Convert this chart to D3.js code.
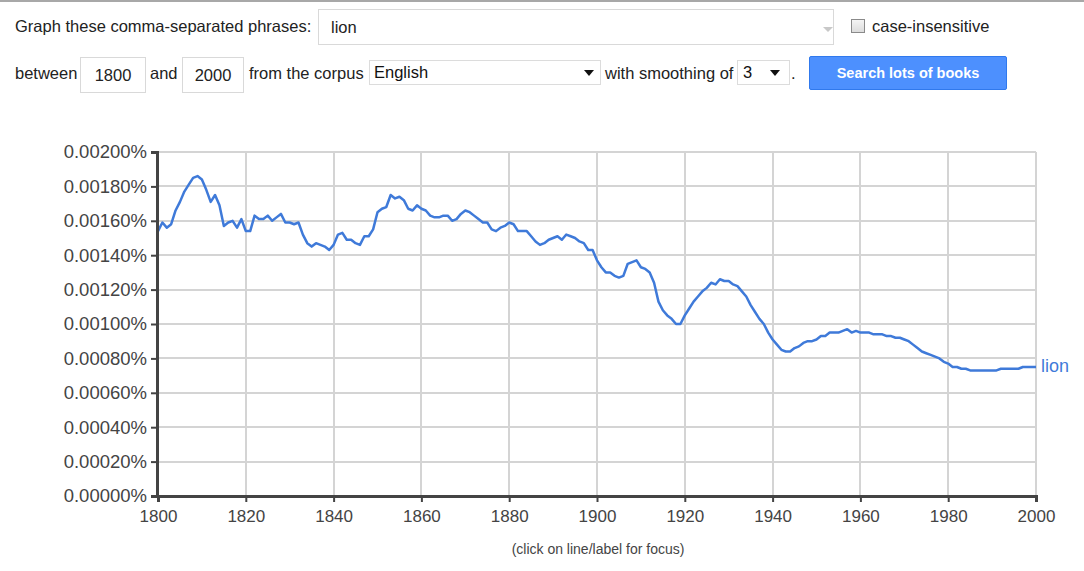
<!DOCTYPE html>
<html>
<head>
<meta charset="utf-8">
<script src="https://cdn.jsdelivr.net/npm/d3@7"></script>
<style>
  html, body { margin: 0; padding: 0; background: #fff; width: 1084px; height: 571px; overflow: hidden; }
  body { font-family: Arial, "Liberation Sans", sans-serif; position: relative; }
  .topline { position: absolute; left: 0; top: 0; width: 1084px; height: 2px; background: #a8a8a8; }
  .lbl { position: absolute; font-size: 16.5px; color: #222; white-space: nowrap; line-height: 20px; }
  .box { position: absolute; border: 1px solid #d9d9d9; background: #fff; box-sizing: border-box; font-size: 16.5px; color: #222; line-height: 20px; }
  .sel { position: absolute; border: 1px solid #dcdcdc; background: #fff; box-sizing: border-box; font-size: 16.5px; color: #111; line-height: 20px; }
  .tri { position: absolute; width: 0; height: 0; border-left: 5px solid transparent; border-right: 5px solid transparent; border-top: 6px solid #111; }
  .btn { position: absolute; background: #4d90fe; border: 1px solid #3079ed; border-radius: 2px; box-sizing: border-box; color: #fff; font-weight: bold; font-size: 14.5px; text-align: center; }
  .cb { position: absolute; width: 14px; height: 14px; border: 1px solid #8a8a8a; box-sizing: border-box; background: linear-gradient(#f4f4f4, #dcdcdc); }
  svg { position: absolute; left: 0; top: 0; }
</style>
</head>
<body>
<div class="topline"></div>
<div class="lbl" style="left:15px; top:16px;">Graph these comma-separated phrases:</div>
<div class="box" style="left:318px; top:9px; width:516px; height:36px; padding:7px 0 0 12px;">lion</div>
<div class="tri" style="left:823px; top:27px; border-top-color:#c8c8c8; border-top-width:5px;"></div>
<div class="cb" style="left:851px; top:19px;"></div>
<div class="lbl" style="left:872px; top:16px;">case-insensitive</div>

<div class="lbl" style="left:15px; top:63px;">between</div>
<div class="box" style="left:80px; top:57px; width:66px; height:36px; text-align:center; padding-top:7px;">1800</div>
<div class="lbl" style="left:150px; top:63px;">and</div>
<div class="box" style="left:182px; top:57px; width:62px; height:36px; text-align:center; padding-top:7px;">2000</div>
<div class="lbl" style="left:249px; top:63px;">from the corpus</div>
<div class="sel" style="left:369px; top:60px; width:232px; height:25px; padding:1px 0 0 4px;">English</div>
<div class="tri" style="left:584px; top:70px;"></div>
<div class="lbl" style="left:605px; top:63px;">with smoothing of</div>
<div class="sel" style="left:737px; top:60px; width:53px; height:25px; padding:1px 0 0 5px;">3</div>
<div class="tri" style="left:770px; top:70px;"></div>
<div class="lbl" style="left:791px; top:63px;">.</div>
<div class="btn" style="left:809px; top:56px; width:198px; height:34px; line-height:33px;">Search lots of books</div>

<svg id="chart" width="1084" height="571"></svg>

<script>
const years = d3.range(1800, 2001);
// Frequency of "lion" in percent, one value per year 1800..2000
const values = [
  0.00154, 0.00159, 0.00156, 0.00158, 0.00166, 0.00171, 0.00177, 0.00181, 0.00185, 0.00186,
  0.00184, 0.00178, 0.00171, 0.00175, 0.00169, 0.00157, 0.00159, 0.00160, 0.00156, 0.00161,
  0.00154, 0.00154, 0.00163, 0.00161, 0.00161, 0.00163, 0.00160, 0.00162, 0.00164, 0.00159,
  0.00159, 0.00158, 0.00159, 0.00152, 0.00147, 0.00145, 0.00147, 0.00146, 0.00145, 0.00143,
  0.00146, 0.00152, 0.00153, 0.00149, 0.00149, 0.00147, 0.00146, 0.00151, 0.00151, 0.00155,
  0.00165, 0.00167, 0.00168, 0.00175, 0.00173, 0.00174, 0.00172, 0.00167, 0.00166, 0.00169,
  0.00167, 0.00166, 0.00163, 0.00162, 0.00162, 0.00163, 0.00163, 0.00160, 0.00161, 0.00164,
  0.00166, 0.00165, 0.00163, 0.00161, 0.00159, 0.00159, 0.00155, 0.00154, 0.00156, 0.00157,
  0.00159, 0.00158, 0.00154, 0.00154, 0.00154, 0.00151, 0.00148, 0.00146, 0.00147, 0.00149,
  0.00150, 0.00151, 0.00149, 0.00152, 0.00151, 0.00150, 0.00148, 0.00147, 0.00143, 0.00143,
  0.00137, 0.00133, 0.00130, 0.00130, 0.00128, 0.00127, 0.00128, 0.00135, 0.00136, 0.00137,
  0.00133, 0.00132, 0.00130, 0.00124, 0.00113, 0.00108, 0.00105, 0.00103, 0.00100, 0.00100,
  0.00105, 0.00109, 0.00113, 0.00116, 0.00119, 0.00121, 0.00124, 0.00123, 0.00126, 0.00125,
  0.00125, 0.00123, 0.00122, 0.00119, 0.00116, 0.00111, 0.00107, 0.00103, 0.00100, 0.00095,
  0.00091, 0.00088, 0.00085, 0.00084, 0.00084, 0.00086, 0.00087, 0.00089, 0.00090, 0.00090,
  0.00091, 0.00093, 0.00093, 0.00095, 0.00095, 0.00095, 0.00096, 0.00097, 0.00095, 0.00096,
  0.00095, 0.00095, 0.00095, 0.00094, 0.00094, 0.00094, 0.00093, 0.00093, 0.00092, 0.00092,
  0.00091, 0.00090, 0.00088, 0.00086, 0.00084, 0.00083, 0.00082, 0.00081, 0.00080, 0.00078,
  0.00077, 0.00075, 0.00075, 0.00074, 0.00074, 0.00073, 0.00073, 0.00073, 0.00073, 0.00073,
  0.00073, 0.00073, 0.00074, 0.00074, 0.00074, 0.00074, 0.00074, 0.00075, 0.00075, 0.00075,
  0.00075
];
const seriesName = "lion";
const xTicks = d3.range(1800, 2001, 20);
const yTicks = d3.range(0, 0.00201, 0.0002).map(v => +v.toFixed(5));

const svg = d3.select("#chart");
const plotLeft = 158, plotRight = 1036, plotTop = 152, plotBottom = 496;
const font = "Arial, 'Liberation Sans', sans-serif";

const x = d3.scaleLinear().domain([1800, 2000]).range([plotLeft, plotRight]);
const y = d3.scaleLinear().domain([0, 0.002]).range([plotBottom, plotTop]);

// gridlines
svg.append("g").selectAll("line").data(yTicks).join("line")
  .attr("x1", plotLeft).attr("x2", plotRight)
  .attr("y1", d => Math.round(y(d))).attr("y2", d => Math.round(y(d)))
  .attr("stroke", "#d4d4d4").attr("stroke-width", 2);
svg.append("g").selectAll("line").data(xTicks).join("line")
  .attr("y1", plotTop).attr("y2", plotBottom)
  .attr("x1", d => Math.round(x(d))).attr("x2", d => Math.round(x(d)))
  .attr("stroke", "#d4d4d4").attr("stroke-width", 2);

// line
const data = years.map((yr, i) => ({ yr, v: values[i] }));
svg.append("path").datum(data)
  .attr("fill", "none").attr("stroke", "#3f7ad9").attr("stroke-width", 2.5)
  .attr("stroke-linejoin", "round")
  .attr("d", d3.line().x(d => x(d.yr)).y(d => y(d.v)));

// y axis
const yAxis = d3.axisLeft(y).tickValues(yTicks).tickSize(6).tickPadding(4)
  .tickFormat(d => d3.format(".5f")(d) + "%");
const gy = svg.append("g").attr("transform", `translate(${plotLeft - 1},0)`).call(yAxis);
gy.select(".domain").attr("stroke", "#444").attr("stroke-width", 3);
gy.selectAll(".tick line").attr("stroke", "#444").attr("stroke-width", 2);
gy.selectAll(".tick text").attr("fill", "#444").style("font-size", "18.5px").style("font-family", font);

// x axis
const xAxis = d3.axisBottom(x).tickValues(xTicks).tickSize(6).tickPadding(8)
  .tickFormat(d3.format("d"));
const gx = svg.append("g").attr("transform", `translate(0,${plotBottom})`).call(xAxis);
gx.select(".domain").attr("stroke", "#444").attr("stroke-width", 3);
gx.selectAll(".tick line").attr("stroke", "#444").attr("stroke-width", 2);
gx.selectAll(".tick text").attr("fill", "#444").style("font-size", "17px").style("font-family", font);

// series label
svg.append("text")
  .attr("x", plotRight + 5).attr("y", y(values[values.length - 1]) + 5)
  .attr("fill", "#3f7ad9").style("font-size", "18px").style("font-family", font)
  .text(seriesName);

// footer note
svg.append("text")
  .attr("x", 598).attr("y", 554).attr("text-anchor", "middle")
  .attr("fill", "#444").style("font-size", "14px").style("font-family", font)
  .text("(click on line/label for focus)");
</script>
</body>
</html>
